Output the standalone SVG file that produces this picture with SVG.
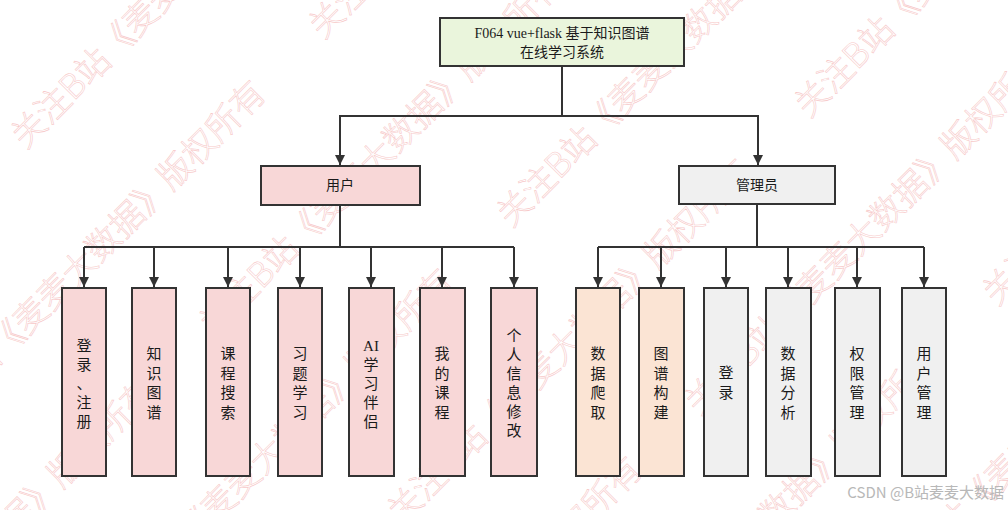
<svg xmlns="http://www.w3.org/2000/svg" width="1008" height="510" viewBox="0 0 1008 510">
<defs>
<style>
.box{stroke:#333;stroke-width:2}
.root{fill:#eaf5dc}
.pink{fill:#f8d7d7}
.gray{fill:#f0f0f0}
.peach{fill:#fbe4d4}
.t{font-family:"Liberation Serif","Noto Sans CJK SC",serif;font-size:14px;fill:#1a1a1a;text-anchor:middle}
.v{font-family:"Liberation Serif","Noto Sans CJK SC",serif;font-size:15px;fill:#1a1a1a;text-anchor:middle}
.ln{fill:none;stroke:#333;stroke-width:2}
.wm{font-family:"Noto Sans CJK SC",sans-serif;font-size:34px;font-weight:300;fill:none;stroke:#f3a6a6;stroke-width:0.6;opacity:0.6}
</style>
<marker id="arr" viewBox="0 0 10 10" refX="10" refY="5" markerWidth="5" markerHeight="5" markerUnits="strokeWidth" orient="auto">
<path d="M0,0 L10,5 L0,10 z" fill="#333"/>
</marker>
</defs>
<rect width="1008" height="510" fill="#ffffff"/>
<g id="watermark" transform="rotate(-45)">
<text class="wm" x="-88" y="124">关注B站《麦麦大数据》版权所有</text>
<text class="wm" x="-376" y="257">关注B站《麦麦大数据》版权所有</text>
<text class="wm" x="200" y="257">关注B站《麦麦大数据》版权所有</text>
<text class="wm" x="-664" y="390">关注B站《麦麦大数据》版权所有</text>
<text class="wm" x="-88" y="390">关注B站《麦麦大数据》版权所有</text>
<text class="wm" x="-952" y="523">关注B站《麦麦大数据》版权所有</text>
<text class="wm" x="-376" y="523">关注B站《麦麦大数据》版权所有</text>
<text class="wm" x="200" y="523">关注B站《麦麦大数据》版权所有</text>
<text class="wm" x="-664" y="656">关注B站《麦麦大数据》版权所有</text>
<text class="wm" x="-88" y="656">关注B站《麦麦大数据》版权所有</text>
<text class="wm" x="488" y="656">关注B站《麦麦大数据》版权所有</text>
<text class="wm" x="-376" y="789">关注B站《麦麦大数据》版权所有</text>
<text class="wm" x="200" y="789">关注B站《麦麦大数据》版权所有</text>
<text class="wm" x="-88" y="922">关注B站《麦麦大数据》版权所有</text>
<text class="wm" x="488" y="922">关注B站《麦麦大数据》版权所有</text>
<text class="wm" x="200" y="1055">关注B站《麦麦大数据》版权所有</text>
</g>
<g id="connectors">
<path class="ln" d="M562,66 V116"/>
<path class="ln" d="M562,116 H340 V165" marker-end="url(#arr)"/>
<path class="ln" d="M562,116 H758 V165" marker-end="url(#arr)"/>
<path class="ln" d="M340,205 V247"/>
<path class="ln" d="M84,247 H514"/>
<path class="ln" d="M84,247 V287" marker-end="url(#arr)"/>
<path class="ln" d="M154,247 V287" marker-end="url(#arr)"/>
<path class="ln" d="M228,247 V287" marker-end="url(#arr)"/>
<path class="ln" d="M300,247 V287" marker-end="url(#arr)"/>
<path class="ln" d="M371,247 V287" marker-end="url(#arr)"/>
<path class="ln" d="M442,247 V287" marker-end="url(#arr)"/>
<path class="ln" d="M514,247 V287" marker-end="url(#arr)"/>
<path class="ln" d="M757,204 V247"/>
<path class="ln" d="M598,247 H924"/>
<path class="ln" d="M598,247 V287" marker-end="url(#arr)"/>
<path class="ln" d="M661,247 V287" marker-end="url(#arr)"/>
<path class="ln" d="M726,247 V287" marker-end="url(#arr)"/>
<path class="ln" d="M788,247 V287" marker-end="url(#arr)"/>
<path class="ln" d="M857,247 V287" marker-end="url(#arr)"/>
<path class="ln" d="M924,247 V287" marker-end="url(#arr)"/>
</g>
<g id="root">
<rect class="box root" x="440" y="18" width="244" height="48"/>
<text class="t" x="562" y="38">F064 vue+flask 基于知识图谱</text>
<text class="t" x="562" y="57">在线学习系统</text>
</g>
<g id="user">
<rect class="box pink" x="261" y="166" width="159" height="39"/>
<text class="t" x="340" y="190">用户</text>
</g>
<g id="admin">
<rect class="box gray" x="679" y="166" width="156" height="38"/>
<text class="t" x="757" y="190">管理员</text>
</g>
<g id="u1">
<rect class="box pink" x="62" y="288" width="44" height="188"/>
<text class="v" x="84" y="351"><tspan x="84">登</tspan><tspan x="84" dy="19">录</tspan><tspan x="84" dy="19">、</tspan><tspan x="84" dy="19">注</tspan><tspan x="84" dy="19">册</tspan></text>
</g>
<g id="u2">
<rect class="box pink" x="132" y="288" width="44" height="188"/>
<text class="v" x="154" y="359"><tspan x="154">知</tspan><tspan x="154" dy="19.5">识</tspan><tspan x="154" dy="19.5">图</tspan><tspan x="154" dy="19.5">谱</tspan></text>
</g>
<g id="u3">
<rect class="box pink" x="206" y="288" width="44" height="188"/>
<text class="v" x="228" y="359"><tspan x="228">课</tspan><tspan x="228" dy="19.5">程</tspan><tspan x="228" dy="19.5">搜</tspan><tspan x="228" dy="19.5">索</tspan></text>
</g>
<g id="u4">
<rect class="box pink" x="278" y="288" width="44" height="188"/>
<text class="v" x="300" y="359"><tspan x="300">习</tspan><tspan x="300" dy="19.5">题</tspan><tspan x="300" dy="19.5">学</tspan><tspan x="300" dy="19.5">习</tspan></text>
</g>
<g id="u5">
<rect class="box pink" x="349" y="288" width="45" height="188"/>
<text class="v" x="371" y="351"><tspan x="371">AI</tspan><tspan x="371" dy="19">学</tspan><tspan x="371" dy="19">习</tspan><tspan x="371" dy="19">伴</tspan><tspan x="371" dy="19">侣</tspan></text>
</g>
<g id="u6">
<rect class="box pink" x="420" y="288" width="45" height="188"/>
<text class="v" x="442" y="359"><tspan x="442">我</tspan><tspan x="442" dy="19.5">的</tspan><tspan x="442" dy="19.5">课</tspan><tspan x="442" dy="19.5">程</tspan></text>
</g>
<g id="u7">
<rect class="box pink" x="491" y="288" width="46" height="188"/>
<text class="v" x="514" y="341"><tspan x="514">个</tspan><tspan x="514" dy="19">人</tspan><tspan x="514" dy="19">信</tspan><tspan x="514" dy="19">息</tspan><tspan x="514" dy="19">修</tspan><tspan x="514" dy="19">改</tspan></text>
</g>
<g id="a1">
<rect class="box peach" x="576" y="288" width="44" height="188"/>
<text class="v" x="598" y="359"><tspan x="598">数</tspan><tspan x="598" dy="19.5">据</tspan><tspan x="598" dy="19.5">爬</tspan><tspan x="598" dy="19.5">取</tspan></text>
</g>
<g id="a2">
<rect class="box peach" x="639" y="288" width="45" height="188"/>
<text class="v" x="661" y="359"><tspan x="661">图</tspan><tspan x="661" dy="19.5">谱</tspan><tspan x="661" dy="19.5">构</tspan><tspan x="661" dy="19.5">建</tspan></text>
</g>
<g id="a3">
<rect class="box gray" x="704" y="288" width="44" height="188"/>
<text class="v" x="726" y="378"><tspan x="726">登</tspan><tspan x="726" dy="20">录</tspan></text>
</g>
<g id="a4">
<rect class="box gray" x="766" y="288" width="45" height="188"/>
<text class="v" x="788" y="359"><tspan x="788">数</tspan><tspan x="788" dy="19.5">据</tspan><tspan x="788" dy="19.5">分</tspan><tspan x="788" dy="19.5">析</tspan></text>
</g>
<g id="a5">
<rect class="box gray" x="835" y="288" width="45" height="188"/>
<text class="v" x="857" y="359"><tspan x="857">权</tspan><tspan x="857" dy="19.5">限</tspan><tspan x="857" dy="19.5">管</tspan><tspan x="857" dy="19.5">理</tspan></text>
</g>
<g id="a6">
<rect class="box gray" x="902" y="288" width="44" height="188"/>
<text class="v" x="924" y="359"><tspan x="924">用</tspan><tspan x="924" dy="19.5">户</tspan><tspan x="924" dy="19.5">管</tspan><tspan x="924" dy="19.5">理</tspan></text>
</g>
<text x="1004" y="498" font-family="'Noto Sans CJK SC','Liberation Sans',sans-serif" font-size="15" fill="#b8b8b8" text-anchor="end">CSDN @B站麦麦大数据</text>
</svg>
